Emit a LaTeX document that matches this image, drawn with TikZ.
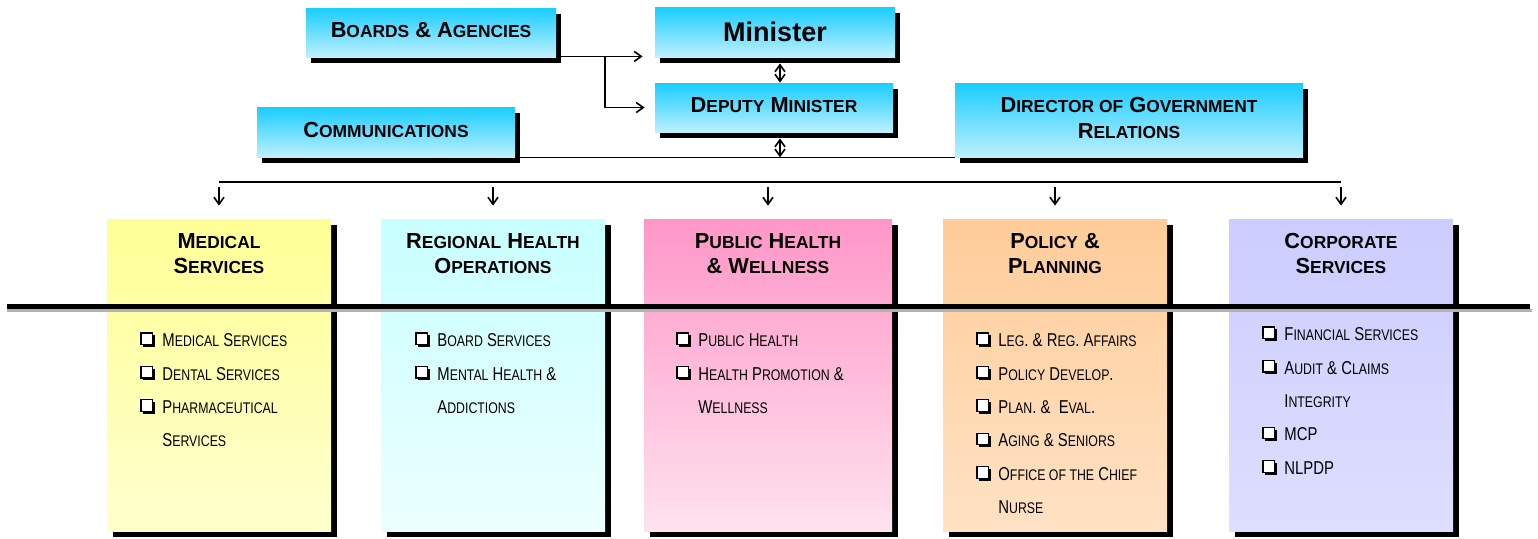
\documentclass[tikz,border=0pt]{standalone}
\usepackage{fontspec}
\setmainfont{Liberation Sans}
\newfontfamily\narrowfont[FakeStretch=0.8]{Liberation Sans}
\usepackage{xcolor}
\usepackage{tikz}
\usetikzlibrary{calc}
\usetikzlibrary{arrows.meta}
\usetikzlibrary{shadows}
\usetikzlibrary{positioning}
\tikzset{>={Straight Barb[length=3.5pt,width=5pt]}}
\definecolor{cyantop}{RGB}{25,205,255}
\definecolor{cyanbot}{RGB}{190,240,255}
\definecolor{yeltop}{RGB}{255,255,150}
\definecolor{yelbot}{RGB}{255,255,205}
\definecolor{aquatop}{RGB}{200,255,255}
\definecolor{aquabot}{RGB}{236,255,255}
\definecolor{pinktop}{RGB}{255,150,200}
\definecolor{pinkbot}{RGB}{255,226,238}
\definecolor{peachtop}{RGB}{255,204,153}
\definecolor{peachbot}{RGB}{255,226,196}
\definecolor{lilactop}{RGB}{204,204,255}
\definecolor{lilacbot}{RGB}{222,222,255}
\newcommand{\hl}[1]{{\fontsize{8.7}{10}\selectfont #1}}
\newcommand{\il}[1]{{\fontsize{7.7}{9}\selectfont #1}}
\newcommand{\cb}{\makebox[11pt][l]{\tikz[baseline=0pt]{\fill (1.2pt,-0.2pt) rectangle (7pt,5.6pt); \filldraw[fill=white, line width=0.6pt] (0,1pt) rectangle (5.8pt,6.8pt);}}}
\newcommand{\cbi}{\hspace*{11pt}}
\tikzstyle{bluebox} = [rectangle, inner sep=0, align=center, text depth=2.5pt, top color=cyantop, bottom color=cyanbot, font=\bfseries\fontsize{10.9}{13}\selectfont, general shadow={fill=black, shadow xshift=2.5pt, shadow yshift=-3pt}]
\tikzstyle{dept} = [rectangle, inner sep=0, minimum width=112pt, minimum height=156pt, general shadow={fill=black, shadow xshift=3pt, shadow yshift=-3pt}]
\tikzstyle{head} = [draw=none, inner sep=0, align=center, font=\bfseries\fontsize{10.9}{12.5}\selectfont]
\tikzstyle{items} = [draw=none, inner sep=0, anchor=north west, align=left, font=\narrowfont\fontsize{9.3}{16.7}\selectfont]

\begin{document}
\begin{tikzpicture}[x=0.5pt, y=-0.5pt]
\useasboundingbox (0,0) rectangle (1538,538);
\node [bluebox, minimum width=125pt, minimum height=24.5pt] (B) at (431, 32.5) {B\hl{OARDS} \& A\hl{GENCIES}};
\node [bluebox, minimum width=120pt, minimum height=25pt, text depth=0pt, font=\bfseries\fontsize{13.5}{16}\selectfont] (M) at (775, 32) {Minister};
\node [bluebox, minimum width=119pt, minimum height=24.5pt] (D) at (774, 107.5) {D\hl{EPUTY} M\hl{INISTER}};
\node [bluebox, minimum width=129pt, minimum height=25pt] (C) at (386, 132) {C\hl{OMMUNICATIONS}};
\node [bluebox, minimum width=174pt, minimum height=37pt] (G) at (1129, 120) {D\hl{IRECTOR OF} G\hl{OVERNMENT}\\R\hl{ELATIONS}};

\node [dept, top color=yeltop, bottom color=yelbot] (MS) at (219, 375) {};
\node [dept, top color=aquatop, bottom color=aquabot] (RH) at (493, 375) {};
\node [dept, minimum width=124pt, top color=pinktop, bottom color=pinkbot] (PH) at (768, 375) {};
\node [dept, top color=peachtop, bottom color=peachbot] (PP) at (1055, 375) {};
\node [dept, top color=lilactop, bottom color=lilacbot] (CS) at (1341, 375) {};

\draw [gray!60, line width=1.5pt] (7, 310.5) -- (1532, 310.5);
\draw [line width=2.5pt] (7, 306.5) -- (1530, 306.5);

\node [head] (MSh) at (219, 254) {M\hl{EDICAL}\\S\hl{ERVICES}};
\node [head] (RHh) at (493, 254) {R\hl{EGIONAL} H\hl{EALTH}\\O\hl{PERATIONS}};
\node [head] (PHh) at (768, 254) {P\hl{UBLIC} H\hl{EALTH}\\\& W\hl{ELLNESS}};
\node [head] (PPh) at (1055, 254) {P\hl{OLICY} \&\\P\hl{LANNING}};
\node [head] (CSh) at (1341, 253) {C\hl{ORPORATE}\\S\hl{ERVICES}};

\node [items] (MSi) at (140, 332) {\cb M\il{EDICAL} S\il{ERVICES}\\ \cb D\il{ENTAL} S\il{ERVICES}\\ \cb P\il{HARMACEUTICAL}\\ \cbi S\il{ERVICES}};
\node [items] (RHi) at (415, 332) {\cb B\il{OARD} S\il{ERVICES}\\ \cb M\il{ENTAL} H\il{EALTH} \&\\ \cbi A\il{DDICTIONS}};
\node [items] (PHi) at (676, 332) {\cb P\il{UBLIC} H\il{EALTH}\\ \cb H\il{EALTH} P\il{ROMOTION} \&\\ \cbi W\il{ELLNESS}};
\node [items] (PPi) at (976, 332) {\cb L\il{EG}. \& R\il{EG}. A\il{FFAIRS}\\ \cb P\il{OLICY} D\il{EVELOP}.\\ \cb P\il{LAN}. \&\ \ E\il{VAL}.\\ \cb A\il{GING} \& S\il{ENIORS}\\ \cb O\il{FFICE OF THE} C\il{HIEF}\\ \cbi N\il{URSE}};
\node [items] (CSi) at (1262, 326) {\cb F\il{INANCIAL} S\il{ERVICES}\\ \cb A\il{UDIT} \& C\il{LAIMS}\\ \cbi I\il{NTEGRITY}\\ \cb MCP\\ \cb NLPDP};

\coordinate (bj) at (605, 56);
\coordinate (ax) at (780, 0);
\coordinate (bus) at (0, 182);
\draw [->, thick, shorten >=6pt] ([yshift=0.5pt]B.south east) -- ([yshift=0.5pt]B.south east -| M.west);
\draw [->, thick, shorten >=5pt] (bj) |- (D.west);
\draw [<->, thick, shorten <=3pt] (M.south -| ax) -- (D.north -| ax);
\draw [<->, thick, shorten <=3pt] (D.south -| ax) -- (C.south east -| ax);
\draw [thick] (C.south east) -- (G.south west);
\draw [thick] (MS.north |- bus) -- (CS.north |- bus);
\foreach \n in {MS, RH, PH, PP, CS}
  \draw [->, thick, shorten <=2.5pt, shorten >=6.5pt] (\n.north |- bus) -- (\n.north);
\end{tikzpicture}
\end{document}
